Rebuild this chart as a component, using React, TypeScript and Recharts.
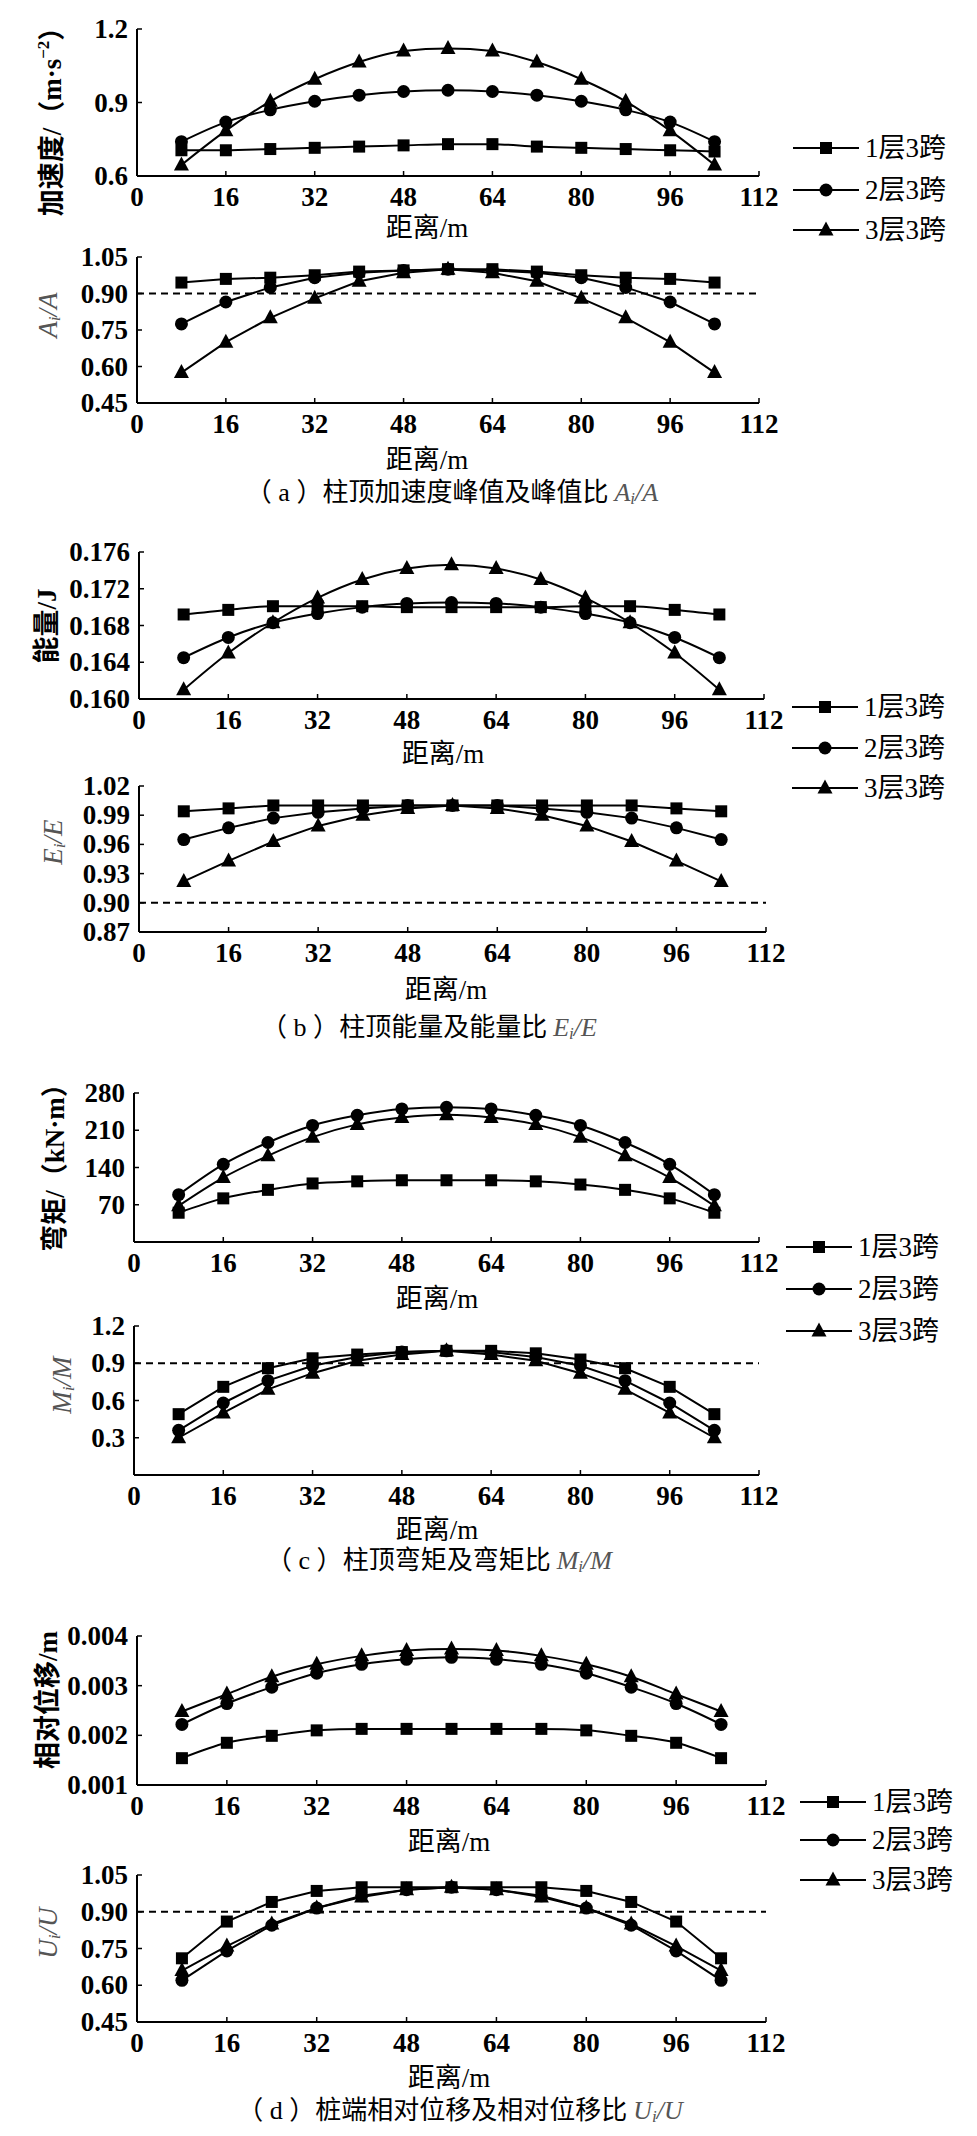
import React from 'react';
import { LineChart, Line, XAxis, YAxis, ReferenceLine, Label } from 'recharts';

// distance along the structure (m)
const DIST = [8, 16, 24, 32, 40, 48, 56, 64, 72, 80, 88, 96, 104];
const X_TICKS = [0, 16, 32, 48, 64, 80, 96, 112];
const SERIES_NAMES = ['1层3跨', '2层3跨', '3层3跨'];
const THRESHOLD = 0.9;

// (a) peak acceleration (m/s^2) and ratio A_i/A
const ACC_1 = [0.705, 0.705, 0.71, 0.715, 0.72, 0.725, 0.73, 0.73, 0.72, 0.715, 0.71, 0.705, 0.7];
const ACC_2 = [0.74, 0.82, 0.87, 0.905, 0.93, 0.945, 0.95, 0.945, 0.93, 0.905, 0.87, 0.82, 0.74];
const ACC_3 = [0.645, 0.785, 0.905, 0.995, 1.065, 1.11, 1.12, 1.11, 1.065, 0.995, 0.905, 0.785, 0.645];
const RATIO_A1 = [0.945, 0.96, 0.965, 0.975, 0.99, 0.995, 1.0, 1.0, 0.99, 0.975, 0.965, 0.96, 0.945];
const RATIO_A2 = [0.775, 0.865, 0.925, 0.965, 0.985, 0.995, 1.0, 0.995, 0.985, 0.965, 0.925, 0.865, 0.775];
const RATIO_A3 = [0.575, 0.7, 0.8, 0.88, 0.95, 0.985, 1.0, 0.985, 0.95, 0.88, 0.8, 0.7, 0.575];

// (b) energy (J) and ratio E_i/E
const ENERGY_1 = [0.1692, 0.1697, 0.1701, 0.1701, 0.1701, 0.17, 0.17, 0.17, 0.17, 0.1701, 0.1701, 0.1697, 0.1692];
const ENERGY_2 = [0.1645, 0.1667, 0.1683, 0.1693, 0.17, 0.1704, 0.1705, 0.1704, 0.17, 0.1693, 0.1683, 0.1667, 0.1645];
const ENERGY_3 = [0.161, 0.165, 0.1683, 0.171, 0.173, 0.1742, 0.1746, 0.1742, 0.173, 0.171, 0.1683, 0.165, 0.161];
const RATIO_E1 = [0.994, 0.997, 1.0, 1.0, 1.0, 1.0, 1.0, 1.0, 1.0, 1.0, 1.0, 0.997, 0.994];
const RATIO_E2 = [0.965, 0.977, 0.987, 0.993, 0.997, 1.0, 1.0, 1.0, 0.997, 0.993, 0.987, 0.977, 0.965];
const RATIO_E3 = [0.922, 0.943, 0.963, 0.979, 0.99, 0.997, 1.0, 0.997, 0.99, 0.979, 0.963, 0.943, 0.922];

// (c) bending moment (kN·m) and ratio M_i/M
const MOMENT_1 = [55, 82, 98, 110, 114, 116, 116, 116, 114, 108, 98, 82, 55];
const MOMENT_2 = [89, 146, 187, 219, 238, 250, 253, 250, 238, 219, 187, 146, 89];
const MOMENT_3 = [68, 121, 162, 197, 221, 234, 239, 234, 221, 197, 162, 121, 68];
const RATIO_M1 = [0.49, 0.71, 0.86, 0.94, 0.97, 0.99, 1.0, 1.0, 0.98, 0.93, 0.86, 0.71, 0.49];
const RATIO_M2 = [0.36, 0.58, 0.76, 0.88, 0.95, 0.99, 1.0, 0.99, 0.95, 0.88, 0.76, 0.58, 0.36];
const RATIO_M3 = [0.3, 0.5, 0.69, 0.82, 0.92, 0.97, 1.0, 0.97, 0.92, 0.82, 0.69, 0.5, 0.3];

// (d) relative displacement (m) and ratio U_i/U
const DISP_1 = [0.00154, 0.00185, 0.00199, 0.0021, 0.00213, 0.00213, 0.00213, 0.00213, 0.00213, 0.0021, 0.00199, 0.00185, 0.00154];
const DISP_2 = [0.00222, 0.00264, 0.00297, 0.00325, 0.00343, 0.00353, 0.00357, 0.00353, 0.00343, 0.00325, 0.00297, 0.00264, 0.00222];
const DISP_3 = [0.00248, 0.00283, 0.00318, 0.00343, 0.0036, 0.00371, 0.00374, 0.00371, 0.0036, 0.00343, 0.00318, 0.00283, 0.00248];
const RATIO_U1 = [0.71, 0.86, 0.94, 0.985, 1.0, 1.0, 1.0, 1.0, 1.0, 0.985, 0.94, 0.86, 0.71];
const RATIO_U2 = [0.62, 0.74, 0.845, 0.915, 0.965, 0.99, 1.0, 0.99, 0.965, 0.915, 0.845, 0.74, 0.62];
const RATIO_U3 = [0.66, 0.76, 0.85, 0.915, 0.96, 0.99, 1.0, 0.99, 0.96, 0.915, 0.85, 0.76, 0.66];

const FONT = '"Liberation Serif", "Noto Sans CJK SC", serif';
const FS = 27;
const PAD_TOP = 24;
const PAD_BOTTOM = 80;
const ITALIC_FILL = '#555';

const SHAPES = ['square', 'circle', 'triangle'];

const marker = (shape: string, cx: number, cy: number, key?: any) => {
  if (shape === 'square') return <rect key={key} x={cx - 6} y={cy - 6} width={12} height={12} fill="#000" />;
  if (shape === 'circle') return <circle key={key} cx={cx} cy={cy} r={6.5} fill="#000" />;
  return <polygon key={key} points={`${cx},${cy - 8.5} ${cx - 7.5},${cy + 5.5} ${cx + 7.5},${cy + 5.5}`} fill="#000" />;
};

const ratioLabel = (main: string) => (
  <>
    {main}
    <tspan dy={6} fontSize={17}>i</tspan>
    <tspan dy={-6}>/{main}</tspan>
  </>
);

const panels = [
  {
    top: 29, bottom: 176, left: 137, right: 759, domain: [0.6, 1.2], ticks: [0.6, 0.9, 1.2], digits: 1,
    series: [ACC_1, ACC_2, ACC_3], curve: 'monotone', yPos: [52, 115], xTitleX: 427, xTitleDy: 52,
    yTitle: (
      <tspan fontWeight="bold">
        加速度/（m·s<tspan dy={-9} fontSize={17}>−2</tspan><tspan dy={9}>）</tspan>
      </tspan>
    ),
  },
  {
    top: 257, bottom: 403, left: 137, right: 759, domain: [0.45, 1.05], ticks: [0.45, 0.6, 0.75, 0.9, 1.05], digits: 2,
    series: [RATIO_A1, RATIO_A2, RATIO_A3], curve: 'linear', threshold: THRESHOLD, yPos: [48, 315], xTitleX: 427, xTitleDy: 57,
    italic: 'A',
  },
  {
    top: 552, bottom: 699, left: 139, right: 764, domain: [0.16, 0.176], ticks: [0.16, 0.164, 0.168, 0.172, 0.176], digits: 3,
    series: [ENERGY_1, ENERGY_2, ENERGY_3], curve: 'monotone', yPos: [47, 626], xTitleX: 443, xTitleDy: 55,
    yTitle: <tspan fontWeight="bold">能量/J</tspan>,
  },
  {
    top: 786, bottom: 932, left: 139, right: 766, domain: [0.87, 1.02], ticks: [0.87, 0.9, 0.93, 0.96, 0.99, 1.02], digits: 2,
    series: [RATIO_E1, RATIO_E2, RATIO_E3], curve: 'linear', threshold: THRESHOLD, yPos: [53, 842], xTitleX: 446, xTitleDy: 58,
    italic: 'E',
  },
  {
    top: 1093, bottom: 1242, left: 134, right: 759, domain: [0, 280], ticks: [70, 140, 210, 280], digits: 0,
    series: [MOMENT_1, MOMENT_2, MOMENT_3], curve: 'monotone', yPos: [55, 1161], xTitleX: 437, xTitleDy: 57,
    yTitle: <tspan fontWeight="bold">弯矩/（kN·m）</tspan>,
  },
  {
    top: 1326, bottom: 1475, left: 134, right: 759, domain: [0, 1.2], ticks: [0.3, 0.6, 0.9, 1.2], digits: 1,
    series: [RATIO_M1, RATIO_M2, RATIO_M3], curve: 'linear', threshold: THRESHOLD, yPos: [62, 1385], xTitleX: 437, xTitleDy: 55,
    italic: 'M',
  },
  {
    top: 1636, bottom: 1785, left: 137, right: 766, domain: [0.001, 0.004], ticks: [0.001, 0.002, 0.003, 0.004], digits: 3,
    series: [DISP_1, DISP_2, DISP_3], curve: 'monotone', yPos: [48, 1700], xTitleX: 449, xTitleDy: 57,
    yTitle: <tspan fontWeight="bold">相对位移/m</tspan>,
  },
  {
    top: 1875, bottom: 2022, left: 137, right: 766, domain: [0.45, 1.05], ticks: [0.45, 0.6, 0.75, 0.9, 1.05], digits: 2,
    series: [RATIO_U1, RATIO_U2, RATIO_U3], curve: 'linear', threshold: THRESHOLD, yPos: [48, 1933], xTitleX: 449, xTitleDy: 56,
    italic: 'U',
  },
];

const legends = [
  { left: 793, rows: [148, 190, 230] },
  { left: 792, rows: [707, 748, 788] },
  { left: 786, rows: [1247, 1289, 1331] },
  { left: 800, rows: [1802, 1840, 1880] },
];

const captions = [
  { x: 452, y: 492, tag: 'a', text: '柱顶加速度峰值及峰值比', italic: 'A' },
  { x: 429, y: 1027, tag: 'b', text: '柱顶能量及能量比', italic: 'E' },
  { x: 439, y: 1560, tag: 'c', text: '柱顶弯矩及弯矩比', italic: 'M' },
  { x: 460, y: 2110, tag: 'd', text: '桩端相对位移及相对位移比', italic: 'U' },
];

function Chart({ p }: { p: any }) {
  const ph = p.bottom - p.top;
  const H = PAD_TOP + ph + PAD_BOTTOM;
  const chartTop = p.top - PAD_TOP;
  const data = DIST.map((x, i) => ({ x, s1: p.series[0][i], s2: p.series[1][i], s3: p.series[2][i] }));

  const xTick = (t: any) => (
    <g>
      <line x1={t.x} x2={t.x} y1={t.y} y2={t.y - 5} stroke="#000" strokeWidth={1.5} />
      <text x={t.x} y={t.y + 21} textAnchor="middle" dominantBaseline="central" fontFamily={FONT} fontSize={FS} fontWeight="bold" fill="#000">
        {t.payload.value}
      </text>
    </g>
  );
  const yTick = (t: any) => (
    <g>
      <line x1={t.x} x2={t.x + 5} y1={t.y} y2={t.y} stroke="#000" strokeWidth={1.5} />
      <text x={t.x - 9} y={t.y} textAnchor="end" dominantBaseline="central" fontFamily={FONT} fontSize={FS} fontWeight="bold" fill="#000">
        {Number(t.payload.value).toFixed(p.digits)}
      </text>
    </g>
  );
  const [yx, yy] = p.yPos;
  const ly = yy - chartTop;
  const yTitle = () => (
    <text
      x={yx} y={ly} transform={`rotate(-90, ${yx}, ${ly})`} textAnchor="middle" dominantBaseline="central"
      fontFamily={FONT} fontSize={FS}
      fill={p.italic ? ITALIC_FILL : '#000'} fontStyle={p.italic ? 'italic' : 'normal'}
    >
      {p.italic ? ratioLabel(p.italic) : p.yTitle}
    </text>
  );
  const xTitle = () => (
    <text x={p.xTitleX} y={ph + PAD_TOP + p.xTitleDy} textAnchor="middle" dominantBaseline="central" fontFamily={FONT} fontSize={FS} fill="#000">
      距离/m
    </text>
  );

  return (
    <div style={{ position: 'absolute', left: 0, top: chartTop }}>
      <LineChart
        width={977}
        height={H}
        data={data}
        margin={{ top: PAD_TOP, right: 977 - p.right, bottom: PAD_BOTTOM - 1, left: p.left - 1 }}
      >
        <XAxis
          dataKey="x" type="number" domain={[0, 112]} ticks={X_TICKS} interval={0} height={1}
          tickSize={0} tickMargin={0} tickLine={false} tick={xTick}
          axisLine={{ stroke: '#000', strokeWidth: 2 }}
          label={<Label content={xTitle} />}
        />
        <YAxis
          type="number" domain={p.domain} ticks={p.ticks} interval={0} width={1} allowDataOverflow
          tickSize={0} tickMargin={0} tickLine={false} tick={yTick}
          axisLine={{ stroke: '#000', strokeWidth: 2 }}
          label={<Label content={yTitle} />}
        />
        {p.threshold !== undefined && (
          <ReferenceLine y={p.threshold} stroke="#000" strokeWidth={2} strokeDasharray="7 5" />
        )}
        {['s1', 's2', 's3'].map((k, si) => (
          <Line
            key={k}
            dataKey={k}
            name={SERIES_NAMES[si]}
            type={p.curve}
            stroke="#000"
            strokeWidth={2}
            isAnimationActive={false}
            activeDot={false}
            dot={(d: any) => marker(SHAPES[si], d.cx, d.cy, `${k}-${d.index}`)}
          />
        ))}
      </LineChart>
    </div>
  );
}

export default function App() {
  return (
    <div style={{ position: 'relative', width: 977, height: 2136, margin: -8, background: '#fff', overflow: 'hidden' }}>
      {panels.map((p, i) => (
        <Chart key={i} p={p} />
      ))}
      <svg width={977} height={2136} style={{ position: 'absolute', left: 0, top: 0, pointerEvents: 'none' }}>
        {legends.map((lg, li) =>
          lg.rows.map((ry, ri) => (
            <g key={`${li}-${ri}`}>
              <line x1={lg.left} x2={lg.left + 66} y1={ry} y2={ry} stroke="#000" strokeWidth={2} />
              {marker(SHAPES[ri], lg.left + 33, ry)}
              <text x={lg.left + 72} y={ry} dominantBaseline="central" fontFamily={FONT} fontSize={FS} fill="#000">
                {SERIES_NAMES[ri]}
              </text>
            </g>
          ))
        )}
        {captions.map((c, ci) => (
          <text key={ci} x={c.x} y={c.y} textAnchor="middle" dominantBaseline="central" fontFamily={FONT} fontSize={26} fill="#000">
            （ {c.tag} ）{c.text}
            <tspan dx={6} fontStyle="italic" fill={ITALIC_FILL}>
              {ratioLabel(c.italic)}
            </tspan>
          </text>
        ))}
      </svg>
    </div>
  );
}
